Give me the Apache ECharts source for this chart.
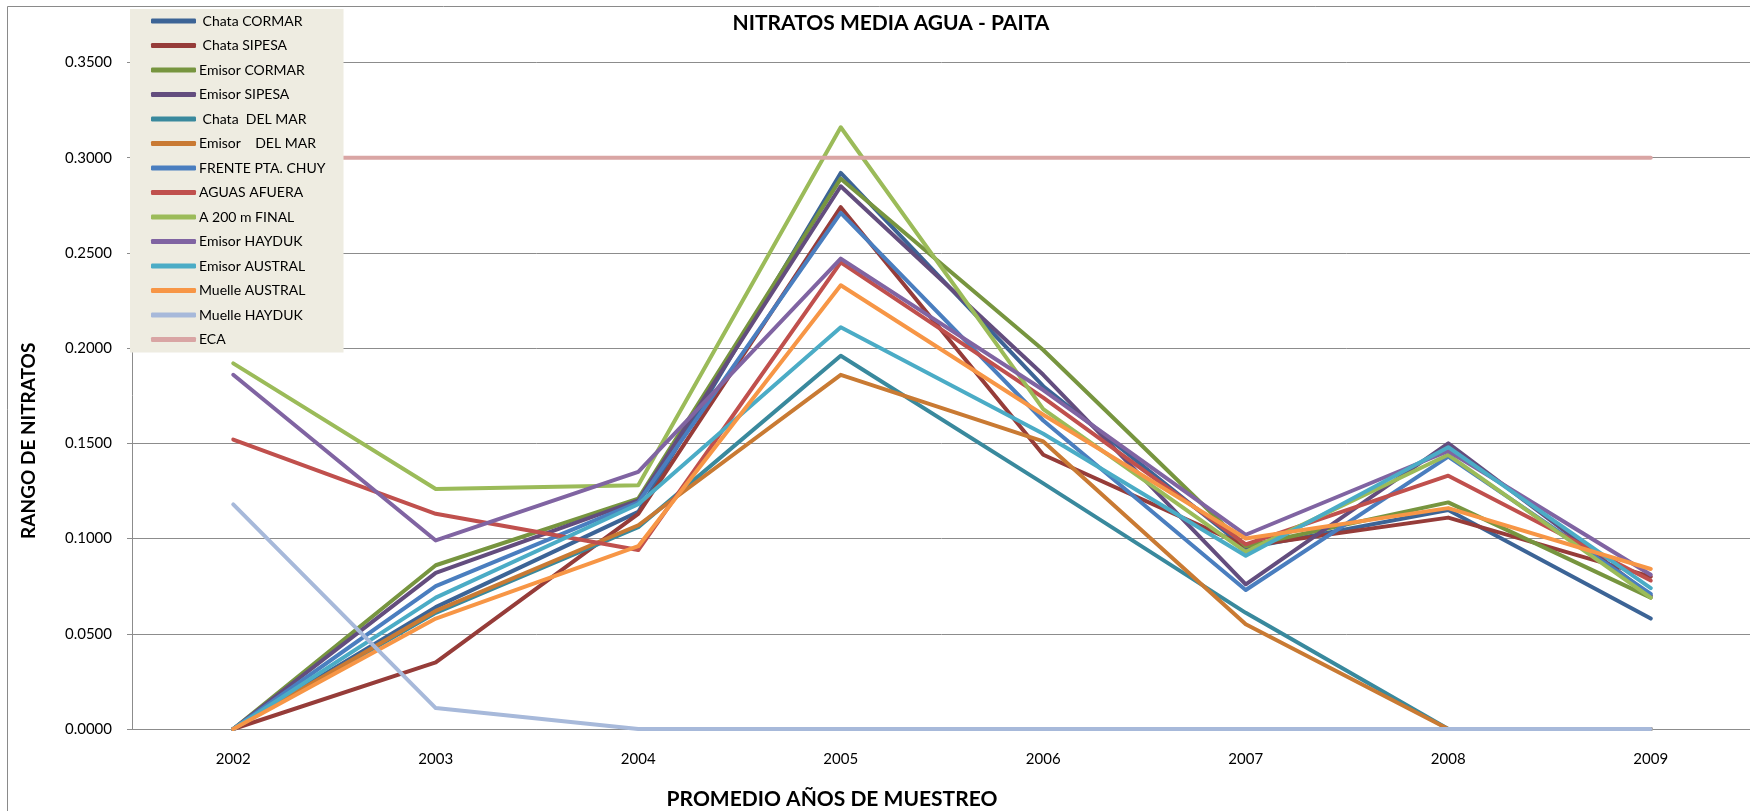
<!DOCTYPE html>
<html>
<head>
<meta charset="utf-8">
<title>Nitratos media agua - Paita</title>
<script src="https://cdn.jsdelivr.net/npm/echarts@6/dist/echarts.min.js"></script>
<style>
  html, body { margin: 0; padding: 0; background: #fff; }
  #chart { width: 1750px; height: 811px; }
</style>
</head>
<body>
<div id="chart"></div>
<script>
// years sampled
const years = ['2002', '2003', '2004', '2005', '2006', '2007', '2008', '2009'];

// nitrate averages per station
const chataCormar   = [0, 0.064, 0.114, 0.292, 0.180, 0.095, 0.115, 0.058];
const chataSipesa   = [0, 0.035, 0.113, 0.274, 0.144, 0.096, 0.111, 0.080];
const emisorCormar  = [0, 0.086, 0.121, 0.289, 0.199, 0.096, 0.119, 0.069];
const emisorSipesa  = [0, 0.082, 0.120, 0.285, 0.186, 0.076, 0.150, 0.070];
const chataDelMar   = [0, 0.061, 0.106, 0.196, 0.129, 0.061, 0, 0];
const emisorDelMar  = [0, 0.062, 0.107, 0.186, 0.151, 0.055, 0, 0];
const frentePtaChuy = [0, 0.075, 0.119, 0.271, 0.162, 0.073, 0.143, 0.071];
const aguasAfuera   = [0.152, 0.113, 0.094, 0.245, 0.174, 0.097, 0.133, 0.078];
const a200mFinal    = [0.192, 0.126, 0.128, 0.316, 0.168, 0.093, 0.144, 0.069];
const emisorHayduk  = [0.186, 0.099, 0.135, 0.247, 0.178, 0.102, 0.146, 0.081];
const emisorAustral = [0, 0.069, 0.118, 0.211, 0.155, 0.091, 0.148, 0.074];
const muelleAustral = [0, 0.058, 0.096, 0.233, 0.165, 0.100, 0.116, 0.084];
const muelleHayduk  = [0.118, 0.011, 0, 0, 0, 0, 0, 0];
const eca           = [0.3, 0.3, 0.3, 0.3, 0.3, 0.3, 0.3, 0.3];

// y axis range
const yMin = 0;
const yMax = 0.35;
const yStep = 0.05;

const stations = [
  { name: ' Chata CORMAR', data: chataCormar, color: '#3C6496' },
  { name: ' Chata SIPESA', data: chataSipesa, color: '#963C39' },
  { name: 'Emisor CORMAR', data: emisorCormar, color: '#77953F' },
  { name: 'Emisor SIPESA', data: emisorSipesa, color: '#634D7E' },
  { name: ' Chata  DEL MAR', data: chataDelMar, color: '#39899D' },
  { name: 'Emisor    DEL MAR', data: emisorDelMar, color: '#C97A33' },
  { name: 'FRENTE PTA. CHUY', data: frentePtaChuy, color: '#4A7EBF' },
  { name: 'AGUAS AFUERA', data: aguasAfuera, color: '#C0504D' },
  { name: 'A 200 m FINAL', data: a200mFinal, color: '#9BBB59' },
  { name: 'Emisor HAYDUK', data: emisorHayduk, color: '#8064A2' },
  { name: 'Emisor AUSTRAL', data: emisorAustral, color: '#4BACC6' },
  { name: 'Muelle AUSTRAL', data: muelleAustral, color: '#F79646' },
  { name: 'Muelle HAYDUK', data: muelleHayduk, color: '#A7B9DA' },
  { name: 'ECA', data: eca, color: '#D9A5A4' }
];

const axisGray = '#8C8C8C';
const chart = echarts.init(document.getElementById('chart'));

chart.setOption({
  animation: false,
  backgroundColor: '#fff',
  textStyle: { fontFamily: 'Lato, "Open Sans", sans-serif' },
  title: {
    text: 'NITRATOS MEDIA AGUA - PAITA',
    left: 886,
    top: 8,
    textAlign: 'center',
    textStyle: { fontSize: 21, fontWeight: 'bold', color: '#000', fontFamily: 'Lato' }
  },
  graphic: [
    {
      type: 'rect',
      shape: { x: 7.5, y: 6.5, width: 1800, height: 900 },
      style: { fill: 'none', stroke: '#8a8a8a', lineWidth: 1 },
      silent: true,
      z: -1
    }
  ],
  legend: {
    orient: 'vertical',
    left: 130,
    top: 9,
    padding: [4, 18, 5, 21],
    backgroundColor: '#EEECE1',
    itemWidth: 45,
    itemHeight: 5,
    itemGap: 8.5,
    icon: 'roundRect',
    selectedMode: false,
    textStyle: { fontSize: 14, lineHeight: 16, color: '#000', padding: [0, 0, 0, -2] },
    data: stations.map(s => s.name)
  },
  grid: {
    left: 132,
    top: 62.5,
    width: 1620,
    height: 666.5,
    containLabel: false,
    outerBoundsMode: 'none'
  },
  xAxis: {
    type: 'category',
    data: years,
    boundaryGap: true,
    name: 'PROMEDIO AÑOS DE MUESTREO',
    nameLocation: 'middle',
    nameGap: 60,
    nameTextStyle: { fontSize: 21, fontWeight: 'bold', color: '#000', padding: [0, 220, 0, 0] },
    axisLine: { lineStyle: { color: axisGray, width: 1 } },
    axisTick: { show: false },
    axisLabel: { fontSize: 15, color: '#000', margin: 23 },
    splitLine: { show: false }
  },
  yAxis: {
    type: 'value',
    min: yMin,
    max: yMax,
    interval: yStep,
    name: 'RANGO DE NITRATOS',
    nameLocation: 'middle',
    nameGap: 94,
    nameTextStyle: { fontSize: 19, fontWeight: 'bold', color: '#000', padding: [0, 90, 0, 0] },
    axisLine: { show: true, lineStyle: { color: axisGray, width: 1 } },
    axisTick: { show: true, length: 5, lineStyle: { color: axisGray } },
    axisLabel: {
      fontSize: 15,
      color: '#000',
      margin: 20,
      formatter: v => v.toFixed(4)
    },
    splitLine: { lineStyle: { color: axisGray, width: 1 } }
  },
  series: stations.map(s => ({
    name: s.name,
    type: 'line',
    data: s.data,
    symbol: 'none',
    smooth: false,
    color: s.color,
    lineStyle: { width: 4, color: s.color, cap: 'round', join: 'round' },
    emphasis: { disabled: true }
  }))
});
</script>
</body>
</html>
